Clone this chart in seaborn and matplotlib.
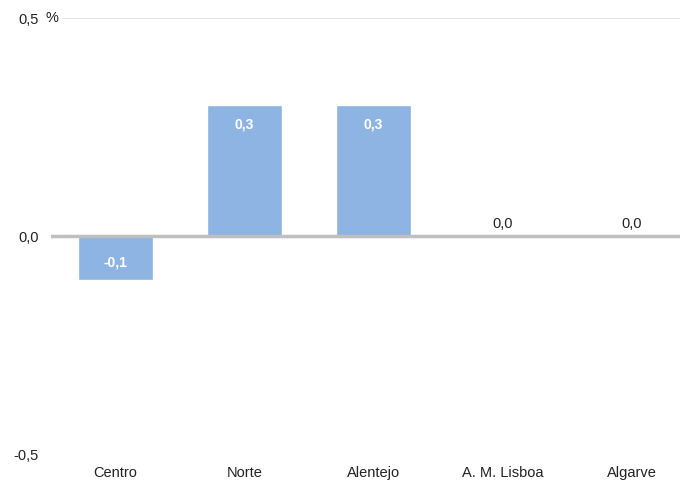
import matplotlib
matplotlib.use("Agg")
import matplotlib.pyplot as plt
import seaborn as sns
import pandas as pd

categories = ["Centro", "Norte", "Alentejo", "A. M. Lisboa", "Algarve"]
values = [-0.1, 0.3, 0.3, 0.0, 0.0]
labels = ["-0,1", "0,3", "0,3", "0,0", "0,0"]
yticks = [-0.5, 0.0, 0.5]
yticklabels = ["-0,5", "0,0", "0,5"]

sns.set_theme(style="white")
plt.rcParams['font.family'] = ['Liberation Sans', 'DejaVu Sans']

df = pd.DataFrame({"region": categories, "value": values})

fig = plt.figure(figsize=(6.8, 4.8), dpi=100)
ax = fig.add_axes([51/680, 1 - 455/480, 629/680, (455-18)/480])

sns.barplot(data=df, x="region", y="value", color="#8db4e3", saturation=1,
            width=0.58, ax=ax, zorder=2)

ax.set_xlim(-0.5, 629/129 - 0.5)
ax.set_ylim(-0.5, 0.5)
ax.set_yticks(yticks)
ax.set_yticklabels(yticklabels)
ax.set_xlabel("")
ax.set_ylabel("")
for s in ax.spines.values():
    s.set_visible(False)
ax.tick_params(axis="y", length=0, pad=9, labelsize=10.5, labelcolor="#222222")
ax.tick_params(axis="x", length=0, pad=8, labelsize=10.5, labelcolor="#222222")

ax.axhline(0.5, xmin=11/629, color="#e6e6e6", lw=0.8, zorder=1)
ax.axhline(-0.5, color="#e6e6e6", lw=0.8, zorder=1)
ax.axhline(0.0, color="#bfbfbf", lw=2.5, zorder=3)

ax.text(-0.008, 0.5, "%", transform=ax.get_yaxis_transform(), ha="left", va="center",
        fontsize=10.5, color="#222222")

for i, (v, lab) in enumerate(zip(values, labels)):
    if abs(v) > 0.05:
        ypos = v - 0.043 if v > 0 else v + 0.04
        ax.text(i, ypos, lab, ha="center", va="center",
                fontsize=10, fontweight="bold", color="white", zorder=4)
    else:
        ax.text(i, 0.013, lab, ha="center", va="bottom", fontsize=10.5,
                color="#222222", zorder=4)

fig.savefig("out.png", dpi=100)
